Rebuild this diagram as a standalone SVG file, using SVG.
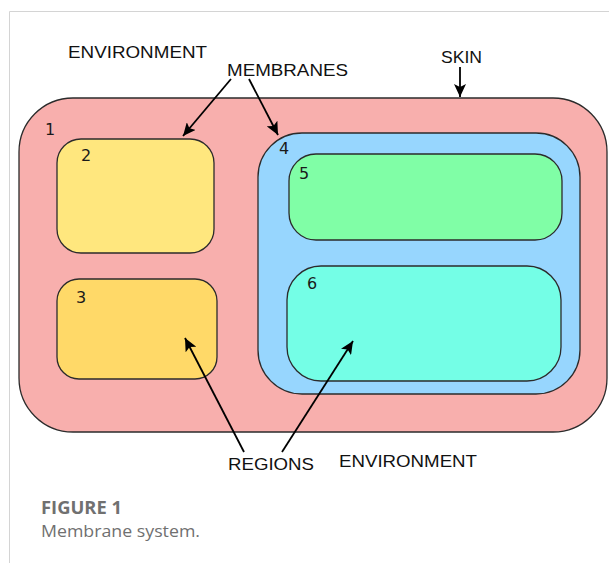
<svg xmlns="http://www.w3.org/2000/svg" width="609" height="563" viewBox="0 0 609 563">
<defs>
<style>
.box{stroke:#2b2b2b;stroke-width:1.3}
.num{font-family:"DejaVu Sans",sans-serif;font-size:16px;fill:#1a1a1a}
.lbl{font-family:"Liberation Sans",Arial,sans-serif;font-size:16.5px;fill:#111}
.con{stroke:#000;stroke-width:1.8;fill:none;marker-end:url(#ah)}
.cap{font-family:"Open Sans","Noto Sans",sans-serif;font-size:17px;fill:#707070}
</style>
<marker id="ah" markerUnits="userSpaceOnUse" markerWidth="14" markerHeight="12" refX="13" refY="6" orient="auto">
<path d="M0,0 L13,6 L0,12 L3,6 z" fill="#000"/>
</marker>
</defs>
<rect width="609" height="563" fill="#fff"/>
<path d="M9.5,563 V11.5 H609" fill="none" stroke="#d4d4d4" stroke-width="1"/>
<g id="skin">
<rect class="box" x="19" y="98" width="588" height="334" rx="54" fill="#F8AFAD"/>
<text class="num" x="45" y="135">1</text>
</g>
<g id="region2">
<rect class="box" x="57" y="139" width="157" height="114" rx="24" fill="#FFE77E"/>
<text class="num" x="81" y="161">2</text>
</g>
<g id="region3">
<rect class="box" x="57" y="279" width="160" height="100" rx="22" fill="#FFD968"/>
<text class="num" x="76" y="303">3</text>
</g>
<g id="region4">
<rect class="box" x="258" y="133" width="322" height="261" rx="44" fill="#97D6FE"/>
<text class="num" x="279" y="154">4</text>
</g>
<g id="region5">
<rect class="box" x="289" y="154" width="273" height="86" rx="27" fill="#80FEA6"/>
<text class="num" x="299" y="179">5</text>
</g>
<g id="region6">
<rect class="box" x="287" y="266" width="274" height="115" rx="34" fill="#74FEE6"/>
<text class="num" x="307" y="289">6</text>
</g>
<g id="labels">
<text class="lbl" x="68" y="57.5" textLength="139" lengthAdjust="spacingAndGlyphs">ENVIRONMENT</text>
<text class="lbl" x="227" y="75.5" textLength="121" lengthAdjust="spacingAndGlyphs">MEMBRANES</text>
<text class="lbl" x="441" y="63" textLength="41" lengthAdjust="spacingAndGlyphs">SKIN</text>
<text class="lbl" x="228" y="470" textLength="86" lengthAdjust="spacingAndGlyphs">REGIONS</text>
<text class="lbl" x="339" y="467" textLength="138" lengthAdjust="spacingAndGlyphs">ENVIRONMENT</text>
</g>
<g id="connectors">
<line class="con" x1="231" y1="79" x2="183" y2="136"/>
<line class="con" x1="249" y1="79" x2="278" y2="135"/>
<line class="con" x1="460" y1="67" x2="460" y2="97"/>
<line class="con" x1="244" y1="452" x2="185" y2="338"/>
<line class="con" x1="282" y1="452" x2="353" y2="341"/>
</g>
<g id="caption">
<text class="cap" x="41" y="514" font-weight="bold" fill="#6a6a6a" textLength="81" lengthAdjust="spacingAndGlyphs">FIGURE 1</text>
<text class="cap" x="41" y="537" textLength="159" lengthAdjust="spacingAndGlyphs">Membrane system.</text>
</g>
</svg>
